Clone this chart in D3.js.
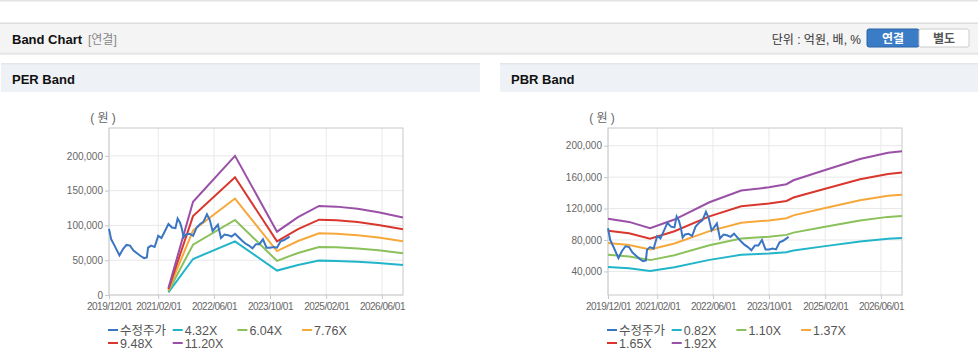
<!DOCTYPE html>
<html>
<head>
<meta charset="utf-8">
<script src="https://cdn.jsdelivr.net/npm/d3@7"></script>
<style>
  body { margin: 0; background: #fff; }
  svg { display: block; font-family: "Liberation Sans", "Noto Sans CJK KR", sans-serif; }
</style>
</head>
<body>
<div id="chart"></div>
<script>
// ---- data ----
var priceDates = ["2019-12-01","2019-12-20","2020-01-15","2020-03-01","2020-04-01","2020-05-01","2020-06-01",
  "2020-07-01","2020-08-01","2020-09-01","2020-10-01","2020-10-25","2020-11-05","2020-12-01","2021-01-01",
  "2021-02-01","2021-03-01","2021-04-01","2021-05-01","2021-06-01","2021-07-01","2021-07-20","2021-08-10",
  "2021-08-25","2021-09-10","2021-10-01","2021-11-01","2021-12-01","2022-01-01","2022-02-01","2022-03-01",
  "2022-04-01","2022-04-25","2022-05-20","2022-06-15","2022-07-05","2022-08-01","2022-09-01","2022-10-01",
  "2022-11-01","2022-12-01","2023-01-01","2023-02-01","2023-03-01","2023-04-01","2023-05-01","2023-06-01",
  "2023-07-01","2023-08-01","2023-09-01","2023-10-01","2023-11-01","2023-12-01","2024-01-01","2024-02-01","2024-03-20"];
var priceValues = [95000,80000,72000,57000,66000,72000,71000,
  64000,60000,56000,53000,54000,68000,71000,69000,
  85000,82000,92000,102000,97000,96000,110000,104000,
  96000,83000,87000,88000,85000,97000,102000,105000,
  116000,108000,92000,97000,101000,82000,87000,86000,
  84000,88000,83000,78000,74000,71000,67000,73000,
  73000,80000,68000,68000,69000,68000,77000,79000,84000];

var perBandDates = ["2021-05-01","2021-12-01","2022-12-01","2023-12-01","2024-06-01","2024-12-01",
  "2025-05-01","2025-11-01","2026-05-01","2026-12-01"];
var per432 = [3900,51700,77100,35100,43200,49400,49000,47800,45900,43000];
var per604 = [5400,72300,107900,49100,60400,69000,68500,66900,64200,60100];
var per776 = [6900,92800,138600,63100,77600,88700,88000,85900,82500,77300];
var per948 = [8500,113400,169300,77000,94800,108300,107500,105000,100700,94400];
var per1120 = [10000,134000,200000,91000,112000,128000,127000,124000,119000,111500];

var pbrBandDates = ["2019-12-01","2020-06-01","2020-12-01","2021-07-01","2022-05-01","2023-02-01",
  "2023-10-01","2024-03-01","2024-05-01","2025-02-01","2025-12-01","2026-08-01","2026-12-01"];
var pbr082 = [45700,44000,40600,45300,54700,61100,62800,64500,66600,72200,78200,81600,82400];
var pbr110 = [61300,59000,54400,60700,73300,81900,84200,86500,89400,96800,104800,109400,110600];
var pbr137 = [76300,73500,67800,75600,91300,102000,104900,107700,111300,120600,130600,136300,137700];
var pbr165 = [91900,88500,81600,91100,110000,122800,126300,129700,134000,145200,157200,164100,165800];
var pbr192 = [107000,103000,95000,106000,128000,143000,147000,151000,156000,169000,183000,191000,193000];

var perNames = ["수정주가","4.32X","6.04X","7.76X","9.48X","11.20X"];
var pbrNames = ["수정주가","0.82X","1.10X","1.37X","1.65X","1.92X"];
var seriesColors = ["#3a75c4","#22b5c9","#8bc15b","#f7a83b","#d9372e","#9a50a6"];

var xTickDates = ["2019-12-01","2021-02-01","2022-06-01","2023-10-01","2025-02-01","2026-06-01"];
var perYTicks = [0,50000,100000,150000,200000];
var pbrYTicks = [40000,80000,120000,160000,200000];

var parse = d3.timeParse("%Y-%m-%d");
var fmtDate = d3.timeFormat("%Y/%m/%d");
var fmtNum = d3.format(",");

var svg = d3.select("#chart").append("svg")
  .attr("width", 978).attr("height", 361);

// ---- page header ----
svg.append("rect").attr("x", 0).attr("y", 0).attr("width", 978).attr("height", 1.5).attr("fill", "#e3e3e3");
svg.append("rect").attr("x", 0).attr("y", 52).attr("width", 978).attr("height", 3).attr("fill", "#e8e8e8");
svg.append("rect").attr("x", 0).attr("y", 22.5).attr("width", 978).attr("height", 30).attr("fill", "#f4f4f4");
svg.append("rect").attr("x", 0).attr("y", 22.5).attr("width", 978).attr("height", 1.5).attr("fill", "#dedede");
svg.append("text").attr("x", 12).attr("y", 44).attr("font-size", "13px").attr("font-weight", "bold")
  .attr("fill", "#111").text("Band Chart");
svg.append("text").attr("x", 88).attr("y", 44).attr("font-size", "12px").attr("fill", "#888").text("[연결]");
svg.append("text").attr("x", 861).attr("y", 44).attr("text-anchor", "end").attr("font-size", "12px")
  .attr("fill", "#333").text("단위 : 억원, 배, %");
svg.append("rect").attr("x", 867).attr("y", 29).attr("width", 52).attr("height", 18).attr("rx", 2)
  .attr("fill", "#3a7cc6").attr("stroke", "#2a62a6");
svg.append("text").attr("x", 893).attr("y", 42.5).attr("text-anchor", "middle").attr("font-size", "12px")
  .attr("font-weight", "bold").attr("fill", "#fff").text("연결");
svg.append("rect").attr("x", 919).attr("y", 29).attr("width", 50).attr("height", 18).attr("rx", 2)
  .attr("fill", "#fff").attr("stroke", "#ccc");
svg.append("text").attr("x", 944).attr("y", 42.5).attr("text-anchor", "middle").attr("font-size", "12px")
  .attr("font-weight", "bold").attr("fill", "#555").text("별도");

function panelHeader(x, w, title) {
  svg.append("rect").attr("x", x).attr("y", 63).attr("width", w).attr("height", 29).attr("fill", "#eef1f6");
  svg.append("rect").attr("x", x).attr("y", 63).attr("width", w).attr("height", 1.5).attr("fill", "#e2e5ea");
  svg.append("text").attr("x", x + 11).attr("y", 84).attr("font-size", "13px").attr("font-weight", "bold")
    .attr("fill", "#111").text(title);
}
panelHeader(1, 479, "PER Band");
panelHeader(500, 478, "PBR Band");

// ---- band chart ----
function drawBand(left, right, yDomain, yTicks, bandDates, bands, names) {
  var top = 128, bottom = 295;
  var xScale = d3.scaleTime().domain([parse("2019-12-01"), parse("2026-12-01")]).range([left, right]);
  var yScale = d3.scaleLinear().domain(yDomain).range([bottom, top]);
  var g = svg.append("g");

  // grid
  g.selectAll(".vgrid").data(xTickDates).enter().append("line")
    .attr("x1", d => xScale(parse(d))).attr("x2", d => xScale(parse(d)))
    .attr("y1", top).attr("y2", bottom).attr("stroke", "#e8e8e8");
  g.selectAll(".hgrid").data(yTicks).enter().append("line")
    .attr("x1", left).attr("x2", right)
    .attr("y1", d => yScale(d)).attr("y2", d => yScale(d)).attr("stroke", "#e8e8e8");
  g.append("rect").attr("x", left).attr("y", top).attr("width", right - left).attr("height", bottom - top)
    .attr("fill", "none").attr("stroke", "#c8c8c8");

  var xAxis = d3.axisBottom(xScale).tickValues(xTickDates.map(parse)).tickFormat(fmtDate)
    .tickSize(4).tickPadding(4);
  var gx = g.append("g").attr("transform", `translate(0, ${bottom})`).call(xAxis);
  var yAxis = d3.axisLeft(yScale).tickValues(yTicks).tickFormat(fmtNum).tickSize(4).tickPadding(2);
  var gy = g.append("g").attr("transform", `translate(${left}, 0)`).call(yAxis);
  [gx, gy].forEach(function(a) {
    a.select(".domain").remove();
    a.selectAll(".tick line").attr("stroke", "#c8c8c8");
    a.selectAll(".tick text").attr("fill", "#666").attr("font-size", "10px")
      .attr("font-family", "Liberation Sans, sans-serif");
  });
  gx.selectAll(".tick text").attr("letter-spacing", "-0.5px");

  g.append("text").attr("x", left - 6).attr("y", 122).attr("text-anchor", "middle")
    .attr("font-size", "12px").attr("fill", "#666").text("( 원 )");

  var line = d3.line().x(d => xScale(d[0])).y(d => yScale(d[1]));
  bands.forEach(function(vals, i) {
    var pts = bandDates.map((d, j) => [parse(d), vals[j]]);
    g.append("path").datum(pts).attr("d", line).attr("fill", "none")
      .attr("stroke", seriesColors[i + 1]).attr("stroke-width", 2);
  });
  var pricePts = priceDates.map((d, j) => [parse(d), priceValues[j]]);
  g.append("path").datum(pricePts).attr("d", line).attr("fill", "none")
    .attr("stroke", seriesColors[0]).attr("stroke-width", 2);

  // legend
  var leg = g.selectAll(".leg").data(names).enter().append("g")
    .attr("transform", (d, i) => `translate(${left - 1 + (i % 4) * 64.7}, ${i < 4 ? 330 : 343})`);
  leg.append("line").attr("x1", 0).attr("x2", 10).attr("y1", 0).attr("y2", 0)
    .attr("stroke", (d, i) => seriesColors[i]).attr("stroke-width", 2);
  leg.append("text").attr("x", 12).attr("y", 4.5).attr("font-size", "12.5px").attr("fill", "#555").text(d => d);
}

drawBand(109, 403, [0, 240000], perYTicks, perBandDates, [per432, per604, per776, per948, per1120], perNames);
drawBand(608, 902, [10000, 222500], pbrYTicks, pbrBandDates, [pbr082, pbr110, pbr137, pbr165, pbr192], pbrNames);
</script>
</body>
</html>
